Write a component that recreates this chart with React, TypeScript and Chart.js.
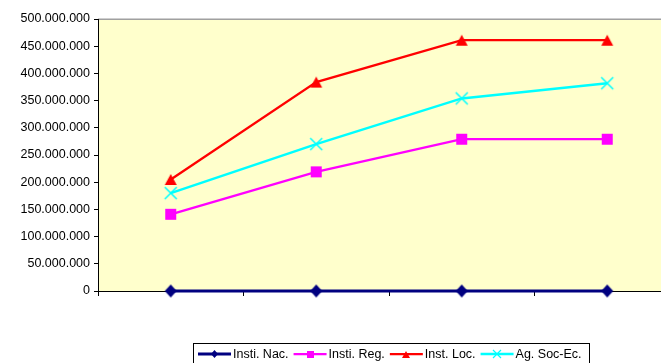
import React, { useEffect, useRef } from 'react';
import { Chart, registerables } from 'chart.js';

Chart.register(...registerables);

const categories = ['1', '2', '3', '4'];
const seriesNames = ['Insti. Nac.', 'Insti. Reg.', 'Inst. Loc.', 'Ag. Soc-Ec.'];
const instiNac = [0, 0, 0, 0];
const instiReg = [141000000, 219000000, 279000000, 279000000];
const instLoc = [205000000, 384000000, 461000000, 461000000];
const agSocEc = [180000000, 270000000, 354000000, 382000000];
const yMin = 0;
const yMax = 500000000;
const yStep = 50000000;

const COLORS = ['#000080', '#FF00FF', '#FF0000', '#00FFFF'];
const FONT = '"Liberation Sans", Arial, sans-serif';

function fmt(v: number): string {
  return String(Math.round(v)).replace(/\B(?=(\d{3})+(?!\d))/g, '.');
}

function marker(shape: string, color: string, w: number, h: number, lw = 1.5): HTMLCanvasElement {
  const c = document.createElement('canvas');
  const pad = 2;
  c.width = Math.ceil(w + pad * 2);
  c.height = Math.ceil(h + pad * 2);
  const g = c.getContext('2d')!;
  g.fillStyle = color;
  g.strokeStyle = color;
  g.lineWidth = lw;
  const cx = c.width / 2;
  const cy = c.height / 2;
  g.beginPath();
  if (shape === 'diamond') {
    g.moveTo(cx, cy - h / 2);
    g.lineTo(cx + w / 2, cy);
    g.lineTo(cx, cy + h / 2);
    g.lineTo(cx - w / 2, cy);
    g.closePath();
    g.fill();
  } else if (shape === 'square') {
    g.rect(cx - w / 2, cy - h / 2, w, h);
    g.fill();
  } else if (shape === 'triangle') {
    g.moveTo(cx, cy - h / 2);
    g.lineTo(cx + w / 2, cy + h / 2);
    g.lineTo(cx - w / 2, cy + h / 2);
    g.closePath();
    g.fill();
  } else {
    g.moveTo(cx - w / 2, cy - h / 2);
    g.lineTo(cx + w / 2, cy + h / 2);
    g.moveTo(cx + w / 2, cy - h / 2);
    g.lineTo(cx - w / 2, cy + h / 2);
    g.stroke();
  }
  return c;
}

export default function App() {
  const ref = useRef<HTMLCanvasElement | null>(null);

  useEffect(() => {
    const canvas = ref.current;
    if (!canvas) return;

    const bigMarkers = [
      marker('diamond', COLORS[0], 12, 13),
      marker('square', COLORS[1], 11, 11),
      marker('triangle', COLORS[2], 12, 11),
      marker('cross', COLORS[3], 12, 12, 1.5),
    ];
    const smallMarkers = [
      marker('diamond', COLORS[0], 7, 8),
      marker('square', COLORS[1], 7, 7),
      marker('triangle', COLORS[2], 8, 7),
      marker('cross', COLORS[3], 8, 8, 1.2),
    ];
    const lineWidths = [3, 2.25, 2.25, 2.5];
    const allData = [instiNac, instiReg, instLoc, agSocEc];

    const bgPlugin = {
      id: 'bgPlugin',
      beforeDraw(chart: any) {
        const { ctx, chartArea } = chart;
        ctx.save();
        ctx.fillStyle = '#FFFFCC';
        ctx.fillRect(chartArea.left, chartArea.top, chartArea.right - chartArea.left, chartArea.bottom - chartArea.top);
        ctx.strokeStyle = '#A0A0A0';
        ctx.lineWidth = 1.5;
        ctx.beginPath();
        ctx.moveTo(chartArea.left, chartArea.top + 0.25);
        ctx.lineTo(chartArea.right, chartArea.top + 0.25);
        ctx.lineTo(chartArea.right, chartArea.bottom);
        ctx.stroke();
        ctx.restore();
      },
    };

    const legendPlugin = {
      id: 'customLegend',
      afterDraw(chart: any) {
        const ctx = chart.ctx;
        ctx.save();
        ctx.font = '12.5px ' + FONT;
        ctx.textBaseline = 'middle';
        ctx.textAlign = 'left';
        const left = 193.5;
        const top = 343.5;
        const cy = 354;
        let x = 198;
        for (let i = 0; i < seriesNames.length; i++) {
          ctx.strokeStyle = COLORS[i];
          ctx.lineWidth = lineWidths[i];
          ctx.beginPath();
          ctx.moveTo(x, cy);
          ctx.lineTo(x + 33, cy);
          ctx.stroke();
          const m = smallMarkers[i];
          ctx.drawImage(m, Math.round(x + 16.5 - m.width / 2), Math.round(cy - m.height / 2));
          ctx.fillStyle = '#000000';
          ctx.fillText(seriesNames[i], x + 35, cy + 0.5);
          x = x + 35 + ctx.measureText(seriesNames[i]).width + 5;
        }
        const right = Math.round(x + 2) + 0.5;
        ctx.strokeStyle = '#000000';
        ctx.lineWidth = 1;
        ctx.strokeRect(left, top, right - left, 40);
        ctx.restore();
      },
    };

    const chart = new Chart(canvas, {
      type: 'line',
      data: {
        labels: categories,
        datasets: seriesNames.map((name, i) => ({
          label: name,
          data: allData[i],
          borderColor: COLORS[i],
          backgroundColor: COLORS[i],
          borderWidth: lineWidths[i],
          pointStyle: bigMarkers[i] as any,
          pointRadius: 6,
          pointHoverRadius: 6,
          tension: 0,
          clip: false as any,
        })),
      },
      options: {
        animation: false,
        responsive: false,
        maintainAspectRatio: false,
        devicePixelRatio: 1,
        layout: { padding: { top: 19, right: 20, left: 0, bottom: 0 } },
        plugins: {
          legend: { display: false },
          tooltip: { enabled: false },
        },
        events: [],
        scales: {
          x: {
            type: 'category',
            offset: true,
            grid: {
              offset: true,
              drawOnChartArea: false,
              drawTicks: true,
              tickLength: 5,
              color: '#000000',
              lineWidth: 1,
            },
            border: { display: true, color: '#000000', width: 1 },
            ticks: { display: false },
            afterFit(scale: any) {
              scale.height = 72;
            },
          },
          y: {
            min: yMin,
            max: yMax,
            grid: {
              drawOnChartArea: false,
              drawTicks: true,
              tickLength: 4,
              color: '#000000',
              lineWidth: 1,
            },
            border: { display: true, color: '#000000', width: 1 },
            ticks: {
              stepSize: yStep,
              color: '#000000',
              padding: 4,
              font: { family: FONT, size: 12.5 },
              callback: (v: any) => fmt(Number(v)),
            },
            afterFit(scale: any) {
              scale.width = 98;
            },
          },
        },
      },
      plugins: [bgPlugin, legendPlugin],
    });

    return () => chart.destroy();
  }, []);

  return (
    <div
      style={{
        position: 'fixed',
        left: 0,
        top: 0,
        width: 661,
        height: 363,
        overflow: 'hidden',
        background: '#ffffff',
      }}
    >
      <canvas ref={ref} width={700} height={363} style={{ display: 'block', width: 700, height: 363 }} />
    </div>
  );
}
